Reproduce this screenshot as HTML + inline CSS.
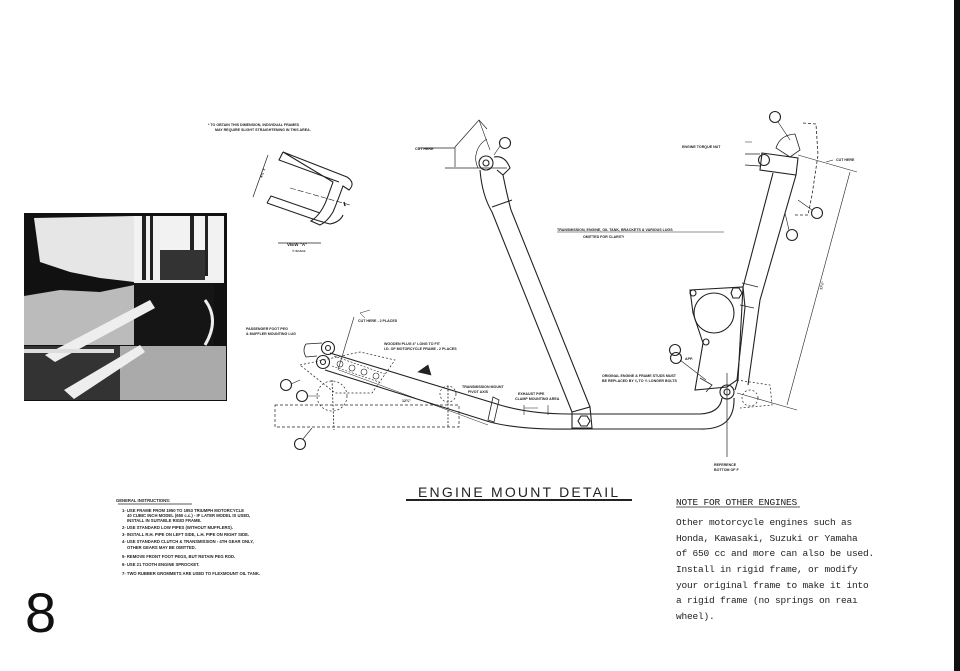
<!DOCTYPE html>
<html><head><meta charset="utf-8"><style>
html,body{margin:0;padding:0;background:#fff;}
svg{display:block;}
.h{font-family:"Liberation Sans",sans-serif;font-weight:bold;fill:#222;}
.m{font-family:"Liberation Mono",monospace;fill:#222;}
</style></head><body>
<svg width="960" height="671" viewBox="0 0 960 671" xmlns="http://www.w3.org/2000/svg">
<rect width="960" height="671" fill="#fff"/>
<rect x="954" y="0" width="6" height="671" fill="#111"/>

<!-- Photo -->
<g>
<rect x="24" y="213" width="203" height="188" fill="#111"/>
<path d="M34 218 L134 216 L134 282 L100 278 L70 272 L40 262 Z" fill="#e6e6e6"/>
<path d="M134 216 L224 216 L224 280 L134 282 Z" fill="#f2f2f2"/>
<rect x="142" y="216" width="4" height="70" fill="#222"/>
<rect x="150" y="216" width="3" height="70" fill="#222"/>
<rect x="190" y="216" width="4" height="60" fill="#222"/>
<rect x="205" y="216" width="3" height="60" fill="#222"/>
<rect x="160" y="250" width="45" height="30" fill="#333"/>
<path d="M24 296 L60 290 L100 292 L134 285 L134 345 L24 345 Z" fill="#bbb"/>
<rect x="134" y="282" width="80" height="64" fill="#151515"/>
<path d="M120 346 L226 346 L226 400 L120 400 Z" fill="#aaa"/>
<path d="M24 346 L120 346 L120 400 L24 400 Z" fill="#333"/>
<path d="M45 355 L150 300 L155 308 L55 362 Z" fill="#eee"/>
<path d="M64 390 L140 345 L145 352 L74 399 Z" fill="#eee"/>
<rect x="24" y="349" width="90" height="4" fill="#ddd"/>
<rect x="134" y="280" width="90" height="3" fill="#eee"/>
<path d="M205 300 Q220 320 205 345" stroke="#eee" stroke-width="3" fill="none"/>
</g>

<g stroke="#222" stroke-width="1.1" fill="none">
<!-- View A -->
<path d="M283 152 L347 177 Q356 183 349 190 L343 186 Q338 200 333 212 Q327 222 320 225 L311 221 Q322 214 328 196 L333 182 Z"/>
<path d="M267 203 L310 218 Q322 222 330 224 Q340 222 343 215"/>
<path d="M283 152 L279 160 L339 182"/>
<path d="M267 203 L271 196 L320 213"/>
<path d="M268 155 L253 197" stroke-width="0.7"/>
<path d="M290 188 L350 205" stroke-width="0.6" stroke-dasharray="6 2"/>
<path d="M344 202 L345 206" stroke-width="1.5"/>
<line x1="278" y1="243" x2="321" y2="243" stroke-width="0.8"/>

<!-- Head of front downtube -->
<path d="M455 147 L479 120 L487 129" stroke-width="0.7"/>
<path d="M455 147 L455 167 M445 168 L507 168 M418 148 L455 148" stroke-width="0.7"/>
<path d="M478 168 A 22 22 0 0 1 487 139" stroke-width="0.7"/>
<path d="M479 120 L490 150" stroke-width="0.6"/>
<circle cx="486" cy="163" r="7"/>
<circle cx="486" cy="163" r="3"/>
<path d="M494 157 Q505 155 510 168 L503 175 L497 170"/>
<path d="M480 170 Q482 195 492 212 L572 412"/>
<path d="M503 175 Q507 195 511 210 L590 407"/>
<path d="M492 207 L512 200"/>
<circle cx="505" cy="143" r="5.5"/>
<path d="M500 146 L494 155" stroke-width="0.6"/>

<!-- lower rail -->
<path d="M330 353 L500 405 Q530 414 570 414 L700 414 Q720 413 722 398"/>
<path d="M325 370 L490 422 Q520 430 575 429 L700 429 Q735 430 734 398"/>
<path d="M572 412 L590 407 L592 428 L572 428 Z"/>
<polygon points="578,421 581,416 587,416 590,421 587,426 581,426"/>
<circle cx="328" cy="348" r="6.5"/>
<circle cx="328" cy="348" r="2.5"/>
<circle cx="323" cy="362" r="6.5"/>
<circle cx="323" cy="362" r="2.5"/>
<path d="M306 344 L322 343 M306 357 L317 356 M306 344 Q302 350 306 357" stroke-width="0.8"/>
<path d="M334 356 L385 374 M332 366 L382 383" stroke-width="0.6" stroke-dasharray="2 1.5"/>
<circle cx="340" cy="364" r="3" stroke-width="0.6"/>
<circle cx="352" cy="368" r="3" stroke-width="0.6"/>
<circle cx="364" cy="372" r="3" stroke-width="0.6"/>
<circle cx="376" cy="376" r="3" stroke-width="0.6"/>
<path d="M300 365 L360 352 L395 360 L372 393 L335 393 Z" stroke-dasharray="2 2" stroke-width="0.7"/>
<rect x="275" y="405" width="184" height="22" stroke-dasharray="3 2" stroke-width="0.7"/>
<circle cx="332" cy="396" r="15" stroke-dasharray="2 2" stroke-width="0.7"/>
<line x1="332" y1="380" x2="334" y2="430" stroke-dasharray="2 1.5" stroke-width="0.8"/>
<circle cx="448" cy="394" r="8" stroke-dasharray="2 2" stroke-width="0.7"/>
<line x1="448" y1="386" x2="448" y2="427" stroke-dasharray="2 1.5" stroke-width="0.8"/>
<path d="M493 397 L499 400 L494 422 L488 420 Z" stroke-width="0.8"/>
<path d="M354 317 L338 370" stroke-width="0.6"/>
<path d="M339 370 L488 425" stroke-width="0.5"/>
<path d="M365 318 L360 313 L370 310" stroke-width="0.5"/>
<path d="M524 408 L538 408 M524 405 L524 415 M548 405 L548 415" stroke-width="0.6"/>
<path d="M418 372 L428 365 L431 375 Z" fill="#222" stroke-width="0.6"/>
<circle cx="286" cy="385" r="5.5"/>
<circle cx="302" cy="396" r="5.5"/>
<circle cx="300" cy="444" r="5.5"/>
<path d="M291 384 L300 380 M307 396 L320 396 M303 439 L312 428" stroke-width="0.6"/>

<!-- rear section -->
<path d="M762 153 L798 158 L796 175 L760 170 Z"/>
<circle cx="764" cy="160" r="5.5"/>
<path d="M745 154 L760 154 M745 165 L760 166" stroke-width="0.8"/>
<path d="M773 173 L743 287 L738 380 L735 390"/>
<path d="M796 175 L760 300 L748 385"/>
<path d="M776 148 Q780 135 795 134 L800 150 L790 157 Z" stroke-width="0.8"/>
<path d="M742 283 L758 287 M740 305 L754 308" stroke-width="0.8"/>
<path d="M690 290 L743 287 L745 307 L737 380 L727 387 L695 390 L703 343 L693 313 Z"/>
<circle cx="714" cy="313" r="20"/>
<polygon points="731,293 733,288 739,288 742,293 739,298 733,298"/>
<circle cx="693" cy="293" r="3"/>
<circle cx="706" cy="342" r="3"/>
<circle cx="727" cy="392" r="7"/>
<circle cx="727" cy="392" r="3"/>
<line x1="727" y1="373" x2="727" y2="457" stroke-width="0.7"/>
<path d="M803 123 L816 124 L818 155 L812 195 L808 215 L795 215" stroke-dasharray="3 2" stroke-width="0.8"/>
<path d="M737 380 L770 385 L772 405 L740 408" stroke-dasharray="2 2" stroke-width="0.7"/>
<circle cx="750" cy="398" r="8" stroke-dasharray="2 2" stroke-width="0.7"/>
<path d="M798 155 L857 172" stroke-width="0.6"/>
<path d="M850 172 L787 405" stroke-width="0.6"/>
<path d="M737 393 L797 410" stroke-width="0.6"/>
<path d="M700 378 L712 385 L706 392" stroke-width="0.8"/>
<circle cx="775" cy="117" r="5.5"/>
<circle cx="817" cy="213" r="5.5"/>
<circle cx="792" cy="235" r="5.5"/>
<circle cx="675" cy="350" r="5.5"/>
<circle cx="676" cy="358" r="5.5"/>
<path d="M778 122 L790 140 M812 210 L798 200 M789 230 L785 213 M680 360 L706 380" stroke-width="0.6"/>
<path d="M745 142 L752 142 M826 162 L833 160" stroke-width="0.6"/>
<!-- title underline -->
<line x1="406" y1="500" x2="632" y2="500" stroke-width="2"/>
<line x1="118" y1="504" x2="192" y2="504" stroke-width="0.7"/>
<line x1="557" y1="232" x2="724" y2="232" stroke-width="0.6"/>
<line x1="676" y1="507" x2="800" y2="507" stroke-width="0.7"/>
</g>

<!-- tiny labels -->
<g class="h" font-size="3.6">
<text x="208" y="126">* TO OBTAIN THIS DIMENSION, INDIVIDUAL FRAMES</text>
<text x="215" y="131">MAY REQUIRE SLIGHT STRAIGHTENING IN THIS AREA.</text>
<text x="287" y="246" font-size="4.5">VIEW "A"</text>
<text x="292" y="252" font-size="3">½ SCALE</text>
<text x="415" y="150">CUT HERE</text>
<text x="682" y="148">ENGINE TORQUE NUT</text>
<text x="836" y="161">CUT HERE</text>
<text x="557" y="231">TRANSMISSION, ENGINE, OIL TANK, BRACKETS &amp; VARIOUS LUGS</text>
<text x="583" y="238">OMITTED FOR CLARITY</text>
<text x="246" y="330">PASSENGER FOOT PEG</text>
<text x="246" y="335">&amp; MUFFLER MOUNTING LUG</text>
<text x="358" y="322">CUT HERE - 2 PLACES</text>
<text x="384" y="345">WOODEN PLUG 4" LONG TO FIT</text>
<text x="384" y="350">I.D. OF MOTORCYCLE FRAME - 2 PLACES</text>
<text x="462" y="388">TRANSMISSION MOUNT</text>
<text x="468" y="393">PIVOT AXIS</text>
<text x="518" y="395">EXHAUST PIPE</text>
<text x="515" y="400">CLAMP MOUNTING AREA</text>
<text x="602" y="377">ORIGINAL ENGINE &amp; FRAME STUDS MUST</text>
<text x="602" y="382">BE REPLACED BY ⅜ TO ½ LONGER BOLTS</text>
<text x="685" y="360">APP.</text>
<text x="714" y="466">REFERENCE</text>
<text x="714" y="471">BOTTOM OF F</text>
<text x="402" y="402">12¾"</text>
<text transform="translate(262 178) rotate(-70)">4⅝" ±</text>
<text transform="translate(822 290) rotate(-75)">17½"</text>
</g>

<!-- General instructions -->
<g class="h" font-size="4.2">
<text x="116" y="502">GENERAL INSTRUCTIONS:</text>
<text x="122" y="512">1- USE FRAME FROM 1950 TO 1953 TRIUMPH MOTORCYCLE</text>
<text x="127" y="517">40 CUBIC INCH MODEL (650 c.c.) - IF LATER MODEL IS USED,</text>
<text x="127" y="522">INSTALL IN SUITABLE RIGID FRAME.</text>
<text x="122" y="529">2- USE STANDARD LOW PIPES (WITHOUT MUFFLERS).</text>
<text x="122" y="536">3- INSTALL R.H. PIPE ON LEFT SIDE, L.H. PIPE ON RIGHT SIDE.</text>
<text x="122" y="543">4- USE STANDARD CLUTCH &amp; TRANSMISSION - 4TH GEAR ONLY,</text>
<text x="127" y="549">OTHER GEARS MAY BE OMITTED.</text>
<text x="122" y="558">5- REMOVE FRONT FOOT PEGS, BUT RETAIN PEG ROD.</text>
<text x="122" y="566">6- USE 21 TOOTH ENGINE SPROCKET.</text>
<text x="122" y="575">7- TWO RUBBER GROMMETS ARE USED TO FLEXMOUNT OIL TANK.</text>
</g>

<text x="418" y="497" font-family="Liberation Sans, sans-serif" font-size="14" letter-spacing="2.2" fill="#222">ENGINE MOUNT DETAIL</text>

<g class="m" font-size="9.5" letter-spacing="-0.2">
<text x="676" y="505">NOTE FOR OTHER ENGINES</text>
<text x="676" y="525">Other motorcycle engines such as</text>
<text x="676" y="541">Honda, Kawasaki, Suzuki or Yamaha</text>
<text x="676" y="556">of 650 cc and more can also be used.</text>
<text x="676" y="572">Install in rigid frame, or modify</text>
<text x="676" y="588">your original frame to make it into</text>
<text x="676" y="603">a rigid frame (no springs on rea&#305;</text>
<text x="676" y="619">wheel).</text>
</g>

<text x="25" y="632" font-family="Liberation Sans, sans-serif" font-size="56" fill="#111">8</text>
</svg>
</body></html>
